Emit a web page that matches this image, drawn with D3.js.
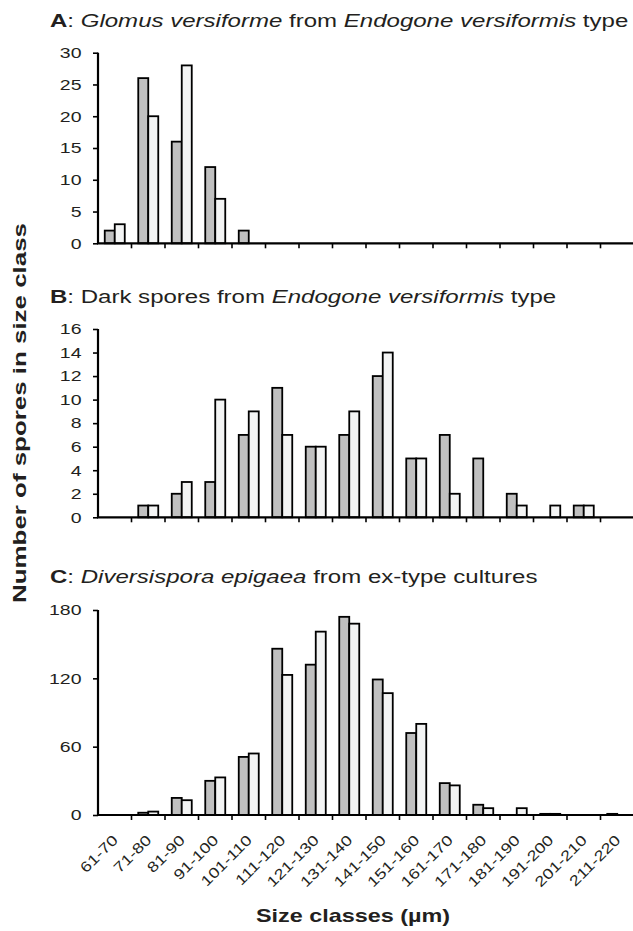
<!DOCTYPE html>
<html>
<head>
<meta charset="utf-8">
<script src="https://cdn.jsdelivr.net/npm/d3@7"></script>
<style>
  html, body { margin: 0; padding: 0; background: #fff; }
  svg { display: block; font-family: "Liberation Sans", Arial, sans-serif; }
</style>
</head>
<body>
<svg id="chart" width="633" height="931"></svg>
<script>
// ---- data ----
const categories = ["61-70","71-80","81-90","91-100","101-110","111-120","121-130","131-140",
  "141-150","151-160","161-170","171-180","181-190","191-200","201-210","211-220"];

const aGrey  = [2, 26, 16, 12, 2, 0, 0, 0, 0, 0, 0, 0, 0, 0, 0, 0];
const aWhite = [3, 20, 28, 7, 0, 0, 0, 0, 0, 0, 0, 0, 0, 0, 0, 0];

const bGrey  = [0, 1, 2, 3, 7, 11, 6, 7, 12, 5, 7, 5, 2, 0, 1, 0];
const bWhite = [0, 1, 3, 10, 9, 7, 6, 9, 14, 5, 2, 0, 1, 1, 1, 0];

const cGrey  = [0, 2, 15, 30, 51, 146, 132, 174, 119, 72, 28, 9, 0, 1, 0, 1];
const cWhite = [0, 3, 13, 33, 54, 123, 161, 168, 107, 80, 26, 6, 6, 1, 0, 0];

const aTicks = [0, 5, 10, 15, 20, 25, 30];
const bTicks = [0, 2, 4, 6, 8, 10, 12, 14, 16];
const cTicks = [0, 60, 120, 180];

const titleA = [["A", "b"], [": ", "n"], ["Glomus versiforme", "i"], [" from ", "n"], ["Endogone versiformis", "i"], [" type", "n"]];
const titleB = [["B", "b"], [": Dark spores from ", "n"], ["Endogone versiformis", "i"], [" type", "n"]];
const titleC = [["C", "b"], [": ", "n"], ["Diversispora epigaea", "i"], [" from ex-type cultures", "n"]];

const yLabel = "Number of spores in size class";
const xLabel = "Size classes (µm)";

// ---- layout ----
const svg = d3.select("#chart");
const TXT = "#231f20";
const GREY = "#c0c0c0", WHITE = "#f3f4f4";
const SX = 1.3; // horizontal stretch of the lettering in the reference

const x = d3.scaleBand().domain(categories).range([98, 634]).paddingInner(0).paddingOuter(0);
const barW = 10;

const panels = [
  { title: titleA, tY: 26.5, grey: aGrey, white: aWhite, ticks: aTicks, max: 30, y0: 243.3, y1: 52.7, last: false },
  { title: titleB, tY: 302.7, grey: bGrey, white: bWhite, ticks: bTicks, max: 16, y0: 517.3, y1: 329, last: false },
  { title: titleC, tY: 583.3, grey: cGrey, white: cWhite, ticks: cTicks, max: 180, y0: 815, y1: 610, last: true }
];

panels.forEach(p => {
  const y = d3.scaleLinear().domain([0, p.max]).range([p.y0, p.y1]);
  const g = svg.append("g");

  // title
  const t = g.append("text").attr("transform", `translate(50,${p.tY}) scale(${SX},1)`)
    .attr("font-size", 18.5).attr("fill", TXT);
  p.title.forEach(([s, st]) => {
    const ts = t.append("tspan").text(s);
    if (st === "b") ts.attr("font-weight", "bold");
    if (st === "i") ts.attr("font-style", "italic");
  });

  // bars
  const cw = x.bandwidth();
  g.selectAll("rect.g").data(categories.map((c, i) => ({ c, v: p.grey[i] })).filter(d => d.v > 0))
    .join("rect")
    .attr("x", d => x(d.c) + cw / 2 - barW)
    .attr("y", d => y(d.v))
    .attr("width", barW)
    .attr("height", d => y(0) - y(d.v))
    .attr("fill", GREY).attr("stroke", "#000").attr("stroke-width", 1.8);
  g.selectAll("rect.w").data(categories.map((c, i) => ({ c, v: p.white[i] })).filter(d => d.v > 0))
    .join("rect")
    .attr("x", d => x(d.c) + cw / 2)
    .attr("y", d => y(d.v))
    .attr("width", barW)
    .attr("height", d => y(0) - y(d.v))
    .attr("fill", WHITE).attr("stroke", "#000").attr("stroke-width", 1.8);

  // y axis
  const ya = g.append("g").attr("transform", `translate(98,0)`)
    .call(d3.axisLeft(y).tickValues(p.ticks).tickSize(5).tickPadding(4).tickFormat(d3.format("d")));
  ya.select(".domain").attr("stroke", "#000").attr("stroke-width", 2.2).attr("d", `M0,${p.y1}V${p.y0}`);
  ya.selectAll(".tick line").attr("stroke", "#000").attr("stroke-width", 1.6);
  ya.selectAll(".tick text")
    .attr("x", 0)
    .attr("transform", `translate(-16.5,0) scale(${SX},1)`)
    .attr("font-size", 15).attr("fill", TXT).attr("font-family", "Liberation Sans, Arial, sans-serif");

  // x axis (ticks at category boundaries)
  const xa = g.append("g").attr("transform", `translate(0,${p.y0})`);
  xa.append("path").attr("d", `M97,0H634`).attr("stroke", "#000").attr("stroke-width", 2.2);
  xa.selectAll("line").data(categories)
    .join("line")
    .attr("x1", d => x(d) + cw).attr("x2", d => x(d) + cw)
    .attr("y1", 0).attr("y2", 5).attr("stroke", "#000").attr("stroke-width", 1.6);

  if (p.last) {
    xa.selectAll("text").data(categories).join("text")
      .attr("transform", d => `translate(${x(d) + cw / 2 + 0.5},${22.5}) rotate(-45) scale(1.25,1)`)
      .attr("text-anchor", "end")
      .attr("dy", "0.35em")
      .attr("font-size", 14.5).attr("fill", TXT)
      .text(d => d);
  }
});

// axis titles
svg.append("text")
  .attr("transform", "translate(26,413) rotate(-90) scale(1.4,1)")
  .attr("text-anchor", "middle")
  .attr("font-size", 18.5).attr("font-weight", "bold").attr("fill", TXT)
  .text(yLabel);

svg.append("text")
  .attr("transform", `translate(353,921.5) scale(${SX},1)`)
  .attr("text-anchor", "middle")
  .attr("font-size", 18).attr("font-weight", "bold").attr("fill", TXT)
  .text(xLabel);
</script>
</body>
</html>
